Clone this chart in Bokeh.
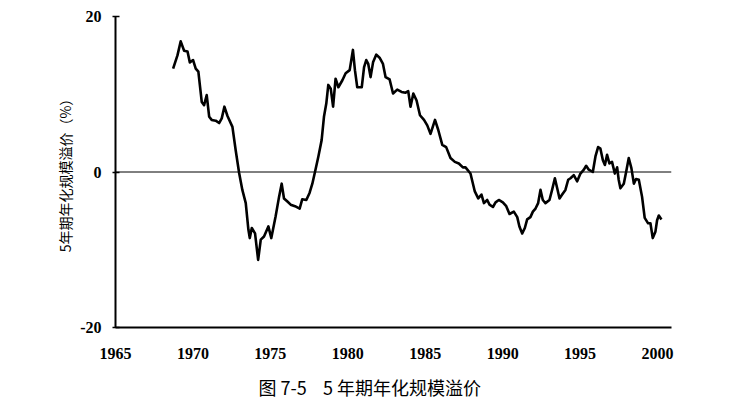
from bokeh.plotting import figure
from bokeh.models import Span, Title, FixedTicker, Range1d
from bokeh.embed import file_html
from bokeh.resources import INLINE

years = [
    1968.72, 1969.0, 1969.21, 1969.43, 1969.65, 1969.8, 1970.01, 1970.18, 1970.35, 1970.57,
    1970.72, 1970.89, 1971.05, 1971.21, 1971.47, 1971.69, 1971.86, 1972.03, 1972.23, 1972.55,
    1972.76, 1972.98, 1973.19, 1973.41, 1973.58, 1973.67, 1973.8, 1974.01, 1974.21, 1974.38,
    1974.59, 1974.87, 1975.06, 1975.34, 1975.56, 1975.73, 1975.88, 1976.1, 1976.31, 1976.59,
    1976.89, 1977.06, 1977.32, 1977.53, 1977.71, 1977.88, 1978.1, 1978.31, 1978.46, 1978.61,
    1978.74, 1978.9, 1979.05, 1979.21, 1979.39, 1979.65, 1979.86, 1980.12, 1980.33, 1980.46,
    1980.61, 1980.9, 1981.05, 1981.19, 1981.32, 1981.47, 1981.63, 1981.84, 1982.05, 1982.27,
    1982.44, 1982.7, 1982.92, 1983.19, 1983.47, 1983.73, 1983.9, 1984.05, 1984.23, 1984.44,
    1984.66, 1984.92, 1985.13, 1985.34, 1985.63, 1985.84, 1986.1, 1986.35, 1986.63, 1986.91,
    1987.17, 1987.43, 1987.6, 1987.92, 1988.2, 1988.42, 1988.63, 1988.79, 1989.0, 1989.15,
    1989.37, 1989.54, 1989.75, 1990.01, 1990.23, 1990.44, 1990.72, 1990.94, 1991.08, 1991.26,
    1991.43, 1991.58, 1991.79, 1991.95, 1992.12, 1992.29, 1992.44, 1992.59, 1992.76, 1993.02,
    1993.19, 1993.37, 1993.52, 1993.67, 1993.84, 1994.05, 1994.23, 1994.38, 1994.59, 1994.81,
    1995.02, 1995.24, 1995.39, 1995.56, 1995.82, 1995.99, 1996.16, 1996.31, 1996.47, 1996.6,
    1996.74, 1996.89, 1997.06, 1997.24, 1997.39, 1997.49, 1997.6, 1997.82, 1997.97, 1998.14,
    1998.31, 1998.47, 1998.61, 1998.79, 1999.0, 1999.17, 1999.39, 1999.54, 1999.69, 1999.86,
    1999.97, 2000.08, 2000.25,
]
spread = [
    13.3, 15.0, 16.8, 15.6, 15.5, 14.1, 14.4, 13.3, 12.9, 9.0,
    8.6, 9.9, 7.1, 6.7, 6.6, 6.3, 6.9, 8.4, 7.2, 5.8,
    2.8, -0.1, -2.3, -4.0, -7.4, -8.5, -7.2, -7.9, -11.3, -8.7,
    -8.3, -7.0, -8.5, -5.7, -3.2, -1.5, -3.4, -3.8, -4.2, -4.4,
    -4.7, -3.5, -3.6, -2.7, -1.5, 0.0, 2.0, 4.1, 7.1, 8.8,
    11.2, 10.7, 8.4, 12.0, 10.9, 11.8, 12.7, 13.1, 15.7, 13.1,
    10.9, 10.9, 13.5, 14.4, 13.9, 12.2, 14.1, 15.1, 14.7, 13.9,
    12.2, 11.9, 10.1, 10.6, 10.3, 10.2, 10.4, 8.4, 10.1, 9.2,
    7.3, 6.7, 6.0, 4.9, 6.7, 5.4, 3.5, 3.2, 1.8, 1.3,
    1.1, 0.6, 0.6, -0.2, -2.5, -3.4, -2.9, -4.0, -3.6, -4.2,
    -4.5, -3.9, -3.6, -3.9, -4.4, -5.4, -5.1, -5.8, -7.0, -7.9,
    -7.2, -6.1, -5.8, -5.1, -4.7, -4.0, -2.3, -3.6, -4.0, -3.6,
    -2.3, -0.8, -2.1, -3.4, -2.9, -2.3, -1.0, -0.8, -0.4, -1.2,
    -0.2, 0.3, 0.8, 0.3, 0.0, 2.0, 3.2, 3.0, 1.5, 0.9,
    2.2, 1.1, 1.3, -0.2, 0.6, -1.0, -2.1, -1.5, 0.0, 1.8,
    0.5, -1.5, -0.9, -1.0, -3.2, -5.9, -6.6, -6.6, -8.5, -7.7,
    -6.2, -5.6, -6.1,
]

x_ticks = [1965, 1970, 1975, 1980, 1985, 1990, 1995, 2000]
y_ticks = [-20, 0, 20]
y_tick_labels = {-20: "-20", 0: "0", 20: "20"}
zero_level = 0

y_label = "5年期年化规模溢价（%）"
caption = "图 7-5\u00a0\u00a0\u00a0\u00a05 年期年化规模溢价"

p = figure(width=747, height=410, output_backend="svg", toolbar_location=None,
           x_range=Range1d(1965, 2000.9), y_range=Range1d(-20, 20),
           min_border_left=115, min_border_right=76, min_border_top=16,
           min_border_bottom=82)
p.outline_line_color = None
p.grid.visible = False
p.background_fill_color = "white"

p.add_layout(Span(location=zero_level, dimension="width", line_color="black",
                  line_width=1))
p.line(years, spread, line_color="black", line_width=2.6, line_join="round")

xa = p.xaxis[0]
xa.ticker = FixedTicker(ticks=x_ticks)
xa.major_tick_out = 0
xa.major_tick_in = 0
xa.minor_tick_out = 0
xa.minor_tick_in = 0
xa.axis_line_width = 2
xa.axis_line_color = "black"
xa.major_label_text_font = "Liberation Serif"
xa.major_label_text_font_style = "bold"
xa.major_label_text_font_size = "16px"
xa.major_label_text_color = "black"
xa.major_label_standoff = 20

ya = p.yaxis[0]
ya.ticker = FixedTicker(ticks=y_ticks)
ya.major_label_overrides = y_tick_labels
ya.major_tick_out = 3
ya.major_tick_in = 4
ya.minor_tick_out = 0
ya.minor_tick_in = 0
ya.axis_line_width = 2
ya.axis_line_color = "black"
ya.major_tick_line_width = 1.5
ya.major_label_text_font = "Liberation Serif"
ya.major_label_text_font_style = "bold"
ya.major_label_text_font_size = "16px"
ya.major_label_text_color = "black"
ya.major_label_standoff = 11
ya.axis_label = y_label
ya.axis_label_text_font = "Noto Sans CJK SC"
ya.axis_label_text_font_style = "normal"
ya.axis_label_text_font_size = "14px"
ya.axis_label_text_color = "black"
ya.axis_label_standoff = 2

t = Title(text=caption, align="left", offset=143, text_font="Noto Sans CJK SC",
          text_font_size="18px", text_font_style="normal", text_color="black",
          standoff=21)
p.add_layout(t, "below")

open("out.html", "w").write(file_html(p, INLINE))
